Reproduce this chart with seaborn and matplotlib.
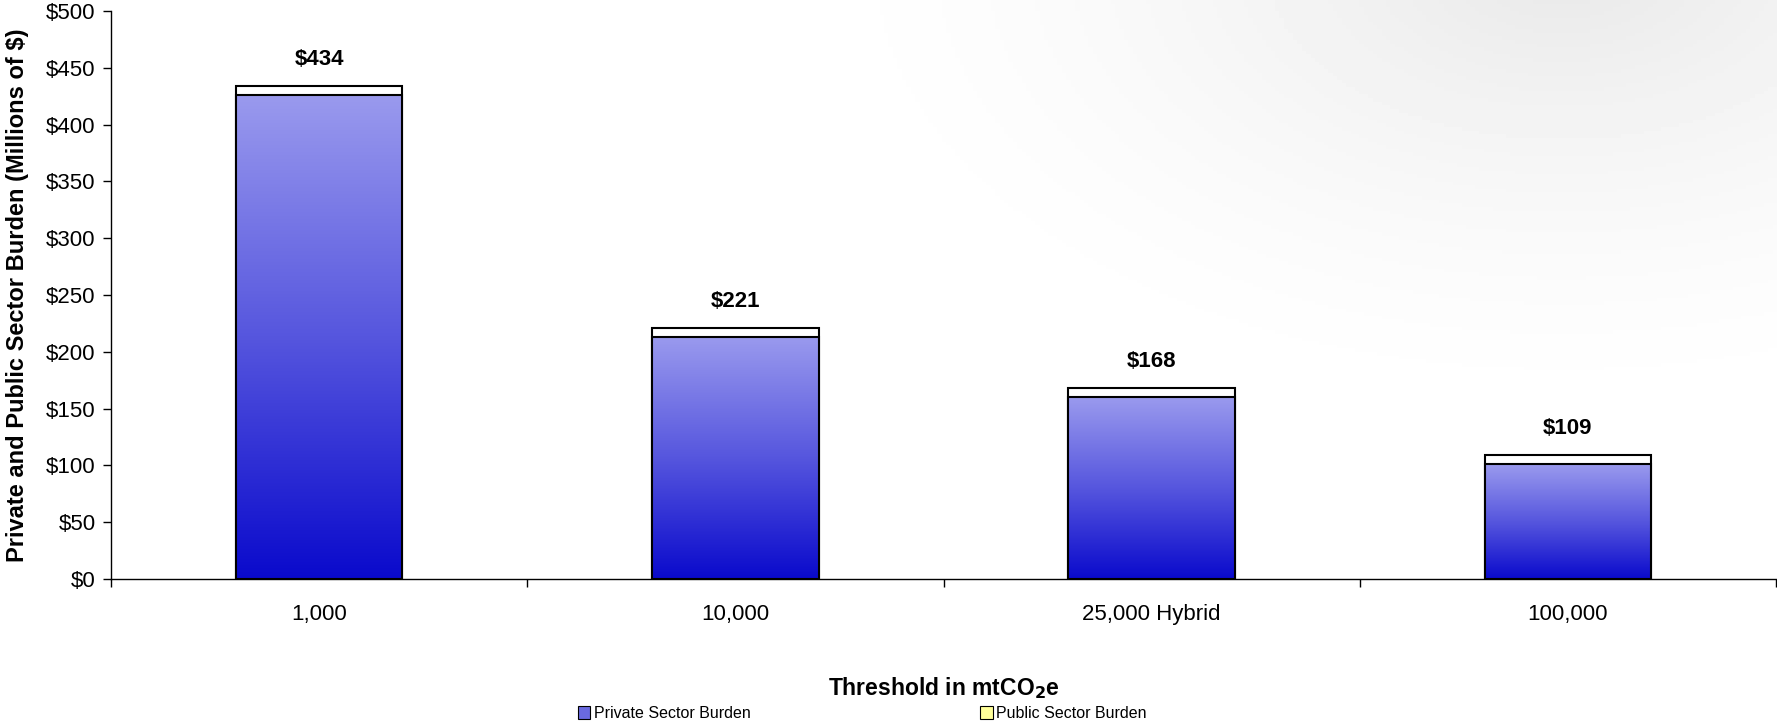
import numpy as np
import pandas as pd
import matplotlib.pyplot as plt
import matplotlib.colors as mcolors
import seaborn as sns

# values in millions of $
thresholds = ["1,000", "10,000", "25,000 Hybrid", "100,000"]
private_burden = [426, 213, 160, 101]
public_burden = [8, 8, 8, 8]
total_labels = ["$434", "$221", "$168", "$109"]

df = pd.DataFrame({"Threshold": thresholds,
                   "Private": private_burden,
                   "Public": public_burden})
df["Total"] = df["Private"] + df["Public"]

sns.set_style("white")
plt.rcParams["font.family"] = ["Liberation Sans", "DejaVu Sans"]
for k in ("text.color", "axes.labelcolor", "xtick.color", "ytick.color"):
    plt.rcParams[k] = "black"

fig = plt.figure(figsize=(17.77, 7.26), dpi=100)

# faint grey wash in the top right corner of the background
bg = fig.add_axes([0, 0, 1, 1], zorder=-10)
yy, xx = np.mgrid[0:1:200j, 0:1:400j]
dist = np.sqrt(((xx - 0.88) / 0.45) ** 2 + ((yy - 1.05) / 0.65) ** 2)
wash = np.clip(1 - dist, 0, 1) ** 1.6 * 0.09
bg.imshow(1 - wash, cmap="gray", vmin=0, vmax=1, extent=[0, 1, 0, 1],
          origin="lower", aspect="auto")
bg.axis("off")

ax = fig.add_axes([0.0625, 0.2025, 0.937, 0.7825])
ax.patch.set_alpha(0)

# stacked bars: total (white public slice on top) then private over it
sns.barplot(data=df, x="Threshold", y="Total", color="white", width=0.4,
            edgecolor="black", linewidth=1.5, saturation=1, ax=ax, zorder=2)
sns.barplot(data=df, x="Threshold", y="Private", color="#8080e0", width=0.4,
            edgecolor="black", linewidth=1.5, saturation=1, ax=ax, zorder=3)

# vertical gradient inside each private bar
grad_cmap = mcolors.LinearSegmentedColormap.from_list(
    "burden", ["#0a0acc", "#5656de", "#9a9aee"])
grad = np.linspace(0, 1, 256).reshape(-1, 1)
for p in ax.patches[len(thresholds):]:
    x0, y0 = p.get_x(), p.get_y()
    w, h = p.get_width(), p.get_height()
    im = ax.imshow(grad, cmap=grad_cmap, origin="lower", aspect="auto",
                   extent=[x0, x0 + w, y0, y0 + h], zorder=2.5)
    im.set_clip_path(p)
    p.set_facecolor("none")

for i, lab in enumerate(total_labels):
    ax.text(i, df["Total"][i] + 14, lab, ha="center", va="bottom",
            fontsize=16, fontweight="bold")

ax.set_xlim(-0.5, 3.5)
ax.set_ylim(0, 500)
ax.set_yticks(range(0, 501, 50))
ax.set_yticklabels([f"${v}" for v in range(0, 501, 50)], fontsize=16)
ax.set_xticks(range(len(thresholds)))
ax.set_xticklabels(thresholds, fontsize=16)
ax.set_xticks(np.arange(-0.5, 3.6, 1), minor=True)
ax.tick_params(axis="x", which="major", length=0, pad=18)
ax.tick_params(axis="x", which="minor", length=6, width=1, direction="out",
               bottom=True)
ax.tick_params(axis="y", length=6, width=1, direction="out", left=True, pad=5)

sns.despine(ax=ax, top=True, right=True)
for s in ("left", "bottom"):
    ax.spines[s].set_color("black")
    ax.spines[s].set_linewidth(1)

ax.set_xlabel(r"Threshold in mtCO$\mathbf{_2}$e", fontsize=16.5,
              fontweight="bold", labelpad=36)
ax.set_ylabel("Private and Public Sector Burden (Millions of $)", fontsize=17,
              fontweight="bold")
ax.yaxis.set_label_coords(-0.049, 0.5)

handles = [plt.Rectangle((0, 0), 1, 1, facecolor="#6a6ae0", edgecolor="black", lw=0.8),
           plt.Rectangle((0, 0), 1, 1, facecolor="#ffff99", edgecolor="black", lw=0.8)]
fig.legend(handles, ["Private Sector Burden", "Public Sector Burden"],
           loc="center left", bbox_to_anchor=(0.317, 0.017), ncol=2,
           frameon=False, fontsize=11.5, handlelength=0.8, handleheight=0.8,
           handletextpad=0.2, columnspacing=14.4)

fig.savefig("out.png", dpi=100)
